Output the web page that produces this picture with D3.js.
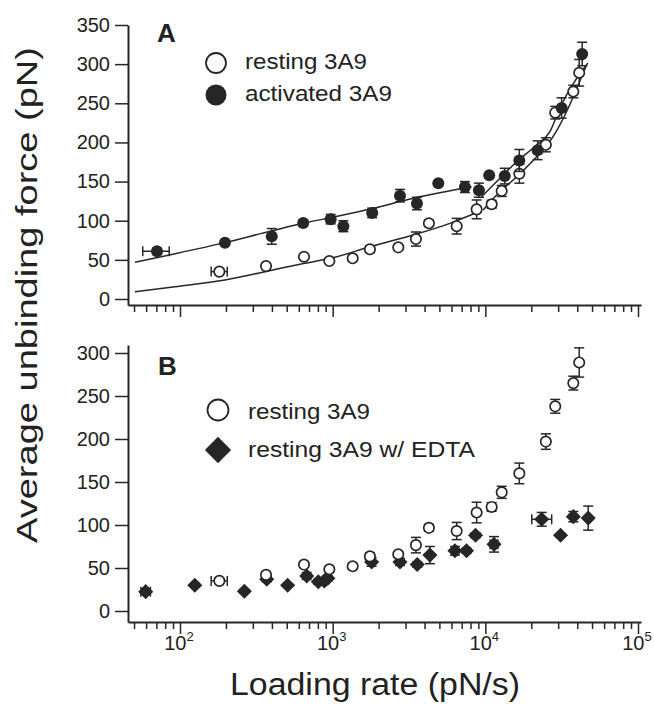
<!DOCTYPE html>
<html>
<head>
<meta charset="utf-8">
<script src="https://cdn.jsdelivr.net/npm/d3@7"></script>
<style>
  body { margin: 0; background: #fff; }
  text { font-family: "Liberation Sans", Arial, Helvetica, sans-serif; fill: #222; }
</style>
</head>
<body>
<div id="fig"></div>
<script>
// ---- data ----
// panel A, activated 3A9 (filled circles)
const actRate  = [70.7, 197, 399, 641, 970, 1175, 1815, 2760, 3565, 4920, 7350, 9080, 10600, 13400, 16700, 22000, 31600, 43100];
const actForce = [61, 72, 80, 97, 102, 93, 110, 132, 122, 148, 143, 139, 158, 157, 177, 190, 244, 313];
const actErr   = [4, 3, 10, 4, 6, 7, 6, 8, 8, 2, 7, 9, 2, 10, 14, 12, 13, 15];
const actXLo   = [57, null, null, null, null, null, null, null, null, null, null, null, null, null, null, null, null, null];
const actXHi   = [85, null, null, null, null, null, null, null, null, null, null, null, null, null, null, null, null, null];

// resting 3A9 (open circles, both panels)
const restRate  = [181, 366, 649, 951, 1352, 1754, 2690, 3510, 4270, 6490, 8770, 11000, 12800, 16700, 24900, 28700, 37700, 41200];
const restForce = [35, 42, 54, 48.5, 52, 63.5, 66, 76.6, 96.7, 93, 114.5, 121, 138, 160, 197, 238, 265, 289];
const restErr   = [3, 3, 2, 2, 3, 4, 3, 9, 4, 10, 12, 5, 7, 12, 9, 8, 8, 17];
const restXLo   = [160, null, null, null, null, null, null, null, null, null, null, null, null, null, null, null, null, null];
const restXHi   = [204, null, null, null, null, null, null, null, null, null, null, null, null, null, null, null, null, null];

// panel B, resting 3A9 w/ EDTA (diamonds)
const edtaRate  = [59.6, 125, 264, 370, 507, 676, 805, 882, 930, 1800, 2760, 3580, 4335, 6320, 7530, 8630, 11400, 23400, 31100, 37700, 47200];
const edtaForce = [22.5, 30, 23, 37, 30, 40.7, 34, 35, 38, 57, 57, 54, 65, 70, 70, 88, 77.5, 106.6, 88, 109.7, 108];
const edtaErr   = [3, 2, 2, 3, 2, 4, 3, 3, 3, 5, 4, 3, 10, 5, 3, 3, 9, 8, 2, 6, 14];
const edtaXLo   = [55.5, null, null, null, null, null, null, null, null, null, null, null, null, null, null, null, 10750, 20150, null, null, null];
const edtaXHi   = [64, null, null, null, null, null, null, null, null, null, null, null, null, null, null, null, 12080, 27200, null, null, null];

// fitted curves in panel A (sampled from the figure)
const fitActLoRate   = [50.7, 83.8, 197, 399, 641, 1035, 1850, 3370, 7160, 8130];
const fitActLoForce  = [47, 56, 72, 87, 96.7, 105, 116, 128.6, 141.4, 143.4];
const fitActHiRate   = [9460, 12470, 16040, 21680, 26480, 30800, 46990];
const fitActHiForce  = [130.7, 154.2, 175.4, 196.7, 213.7, 244, 301.4];
const fitRestLoRate  = [50.7, 92.7, 197, 360, 657, 1035, 1751, 3370, 5860, 8550];
const fitRestLoForce = [9.3, 15.7, 24.3, 34.9, 45.6, 53.3, 66.8, 81.7, 96.6, 109.5];
const fitRestHiRate  = [9680, 11860, 16040, 21680, 27730, 46030];
const fitRestHiForce = [113.7, 132.8, 156.2, 181.7, 207.3, 298.9];

const yTicksA = [0, 50, 100, 150, 200, 250, 300, 350];
const yTicksB = [0, 50, 100, 150, 200, 250, 300];
const xMajor = [1e2, 1e3, 1e4, 1e5];
const xMinor = [];
[10, 100, 1000, 10000].forEach(d => {
    for (let k = 2; k <= 9; k++) if (d * k > 45) xMinor.push(d * k);
});

const legendA = ['resting 3A9', 'activated 3A9'];
const legendB = ['resting 3A9', 'resting 3A9 w/ EDTA'];

// ---- layout ----
let width = 654;
let height = 705;
const ink = '#262626';

let svg = d3.select('#fig').append('svg')
    .attr('width', width)
    .attr('height', height);

// log x shared by both panels: 10^2 at 180px, 10^5 at 638px
let x = d3.scaleLog().domain([1e2, 1e5]).range([180, 638]);
x.domain([x.invert(128), x.invert(641)]).range([128, 641]);

let yA = d3.scaleLinear().domain([0, 350]).range([299, 25]);
yA.domain([yA.invert(305), 350]).range([305, 25]);

let yB = d3.scaleLinear().domain([0, 300]).range([611, 353]);
yB.domain([yB.invert(622), yB.invert(345)]).range([622, 345]);

function styleAxis(g) {
    g.selectAll('.domain').attr('stroke', ink).attr('stroke-width', 2);
    g.selectAll('.tick line').attr('stroke', ink).attr('stroke-width', 1.5);
    g.selectAll('.tick text')
        .attr('font-size', 20)
        .attr('font-family', '"Liberation Sans", Arial, sans-serif')
        .attr('fill', ink);
}

function drawAxes(y, yTicks, x0, y0, labels) {
    let yAxis = svg.append('g')
        .attr('transform', `translate(${x0},0)`)
        .call(d3.axisLeft(y).tickValues(yTicks).tickSize(13).tickPadding(5).tickSizeOuter(0));
    styleAxis(yAxis);

    let minor = svg.append('g')
        .attr('transform', `translate(0,${y0})`)
        .call(d3.axisBottom(x).tickValues(xMinor).tickSize(7).tickSizeOuter(0).tickFormat(''));
    styleAxis(minor);

    let major = svg.append('g')
        .attr('transform', `translate(0,${y0})`)
        .call(d3.axisBottom(x).tickValues(xMajor).tickSize(12).tickSizeOuter(0).tickFormat(''));
    major.select('.domain').remove();
    styleAxis(major);

    if (labels) {
        xMajor.forEach(v => {
            let t = svg.append('text')
                .attr('x', x(v) - 1)
                .attr('y', y0 + 28)
                .attr('text-anchor', 'middle')
                .attr('font-size', 20);
            t.append('tspan').text('10');
            t.append('tspan').attr('font-size', 13).attr('dy', -9).text(Math.round(Math.log10(v)));
        });
    }
}

function errorBars(g, y, rate, force, err, xlo, xhi) {
    const cap = 5;
    rate.forEach((r, i) => {
        let cx = x(r);
        let top = y(force[i] + err[i]);
        let bot = y(force[i] - err[i]);
        g.append('line').attr('x1', cx).attr('x2', cx).attr('y1', top).attr('y2', bot);
        g.append('line').attr('x1', cx - cap).attr('x2', cx + cap).attr('y1', top).attr('y2', top);
        g.append('line').attr('x1', cx - cap).attr('x2', cx + cap).attr('y1', bot).attr('y2', bot);
        if (xlo[i] != null) {
            let cy = y(force[i]);
            let l = x(xlo[i]), h = x(xhi[i]);
            g.append('line').attr('x1', l).attr('x2', h).attr('y1', cy).attr('y2', cy);
            g.append('line').attr('x1', l).attr('x2', l).attr('y1', cy - cap).attr('y2', cy + cap);
            g.append('line').attr('x1', h).attr('x2', h).attr('y1', cy - cap).attr('y2', cy + cap);
        }
    });
    g.attr('stroke', ink).attr('stroke-width', 1.5);
}

function openCircles(y, rate, force) {
    svg.append('g').selectAll('circle')
        .data(rate)
        .join('circle')
        .attr('cx', d => x(d))
        .attr('cy', (d, i) => y(force[i]))
        .attr('r', 5.2)
        .attr('fill', '#fff')
        .attr('stroke', ink)
        .attr('stroke-width', 1.7);
}

function filledCircles(y, rate, force) {
    svg.append('g').selectAll('circle')
        .data(rate)
        .join('circle')
        .attr('cx', d => x(d))
        .attr('cy', (d, i) => y(force[i]))
        .attr('r', 6)
        .attr('fill', ink);
}

// symbolDiamond2 is already a square standing on its corner
const diamond = d3.symbol().type(d3.symbolDiamond2);

function diamonds(y, rate, force) {
    svg.append('g').selectAll('path')
        .data(rate)
        .join('path')
        .attr('transform', (d, i) => `translate(${x(d)},${y(force[i])})`)
        .attr('d', diamond.size(145)())
        .attr('fill', ink);
}

function fitLine(y, rate, force) {
    let line = d3.line()
        .x(d => x(d[0]))
        .y(d => y(d[1]))
        .curve(d3.curveMonotoneX);
    svg.append('path')
        .attr('d', line(rate.map((r, i) => [r, force[i]])))
        .attr('fill', 'none')
        .attr('stroke', ink)
        .attr('stroke-width', 1.5);
}

// ---- panel A ----
drawAxes(yA, yTicksA, 128, 305, false);
fitLine(yA, fitActLoRate, fitActLoForce);
fitLine(yA, fitActHiRate, fitActHiForce);
fitLine(yA, fitRestLoRate, fitRestLoForce);
fitLine(yA, fitRestHiRate, fitRestHiForce);
errorBars(svg.append('g'), yA, restRate, restForce, restErr, restXLo, restXHi);
openCircles(yA, restRate, restForce);
errorBars(svg.append('g'), yA, actRate, actForce, actErr, actXLo, actXHi);
filledCircles(yA, actRate, actForce);

svg.append('text').attr('x', 157).attr('y', 42)
    .attr('font-size', 26).attr('font-weight', 'bold').text('A');

svg.append('circle').attr('cx', 216).attr('cy', 63).attr('r', 10)
    .attr('fill', '#fff').attr('stroke', ink).attr('stroke-width', 1.8);
svg.append('circle').attr('cx', 216).attr('cy', 95).attr('r', 10.5)
    .attr('fill', ink);
svg.append('text').attr('x', 245).attr('y', 69).attr('font-size', 22)
    .attr('textLength', 122).attr('lengthAdjust', 'spacingAndGlyphs').text(legendA[0]);
svg.append('text').attr('x', 245).attr('y', 101).attr('font-size', 22)
    .attr('textLength', 147).attr('lengthAdjust', 'spacingAndGlyphs').text(legendA[1]);

// ---- panel B ----
drawAxes(yB, yTicksB, 128, 622, true);
errorBars(svg.append('g'), yB, edtaRate, edtaForce, edtaErr, edtaXLo, edtaXHi);
diamonds(yB, edtaRate, edtaForce);
errorBars(svg.append('g'), yB, restRate, restForce, restErr, restXLo, restXHi);
openCircles(yB, restRate, restForce);

svg.append('text').attr('x', 158).attr('y', 375)
    .attr('font-size', 26).attr('font-weight', 'bold').text('B');

svg.append('circle').attr('cx', 218).attr('cy', 410).attr('r', 10.5)
    .attr('fill', '#fff').attr('stroke', ink).attr('stroke-width', 1.8);
svg.append('path')
    .attr('transform', 'translate(218,450)')
    .attr('d', diamond.size(440)())
    .attr('fill', ink);
svg.append('text').attr('x', 248).attr('y', 419).attr('font-size', 22)
    .attr('textLength', 122).attr('lengthAdjust', 'spacingAndGlyphs').text(legendB[0]);
svg.append('text').attr('x', 248).attr('y', 457).attr('font-size', 22)
    .attr('textLength', 227).attr('lengthAdjust', 'spacingAndGlyphs').text(legendB[1]);

// ---- axis titles ----
svg.append('text')
    .attr('x', 375).attr('y', 695)
    .attr('text-anchor', 'middle')
    .attr('font-size', 31)
    .attr('textLength', 290).attr('lengthAdjust', 'spacingAndGlyphs')
    .text('Loading rate (pN/s)');

svg.append('text')
    .attr('transform', 'translate(37,295) rotate(-90)')
    .attr('text-anchor', 'middle')
    .attr('font-size', 30)
    .attr('textLength', 496).attr('lengthAdjust', 'spacingAndGlyphs')
    .text('Average unbinding force (pN)');
</script>
</body>
</html>
